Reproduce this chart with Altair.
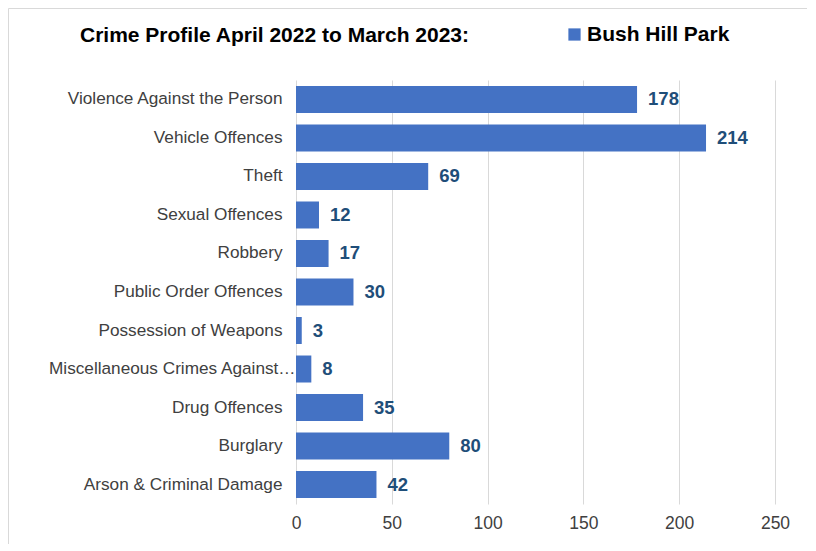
import altair as alt
import pandas as pd

categories = [
    "Violence Against the Person",
    "Vehicle Offences",
    "Theft",
    "Sexual Offences",
    "Robbery",
    "Public Order Offences",
    "Possession of Weapons",
    "Miscellaneous Crimes Against Society",
    "Drug Offences",
    "Burglary",
    "Arson & Criminal Damage",
]
counts = [178, 214, 69, 12, 17, 30, 3, 8, 35, 80, 42]
series_name = "Bush Hill Park"
chart_title = "Crime Profile April 2022 to March 2023:"
x_ticks = [0, 50, 100, 150, 200, 250]

df = pd.DataFrame({"category": categories, "count": counts, "series": [series_name] * len(categories)})

FONT = "Liberation Sans"
W, H = 479, 424
PL, PT, PR, PB = 288, 72, 32, 40

y_enc = alt.Y(
    "category:N",
    sort=categories,
    scale=alt.Scale(paddingInner=0.3, paddingOuter=0.156),
    axis=alt.Axis(
        title=None,
        ticks=False,
        domain=False,
        labelFont=FONT,
        labelFontSize=17.2,
        labelColor="#404040",
        labelPadding=alt.expr(f"datum.value == '{categories[7]}' ? 1 : 14"),
        labelLimit=252,
    ),
)

x_enc = alt.X(
    "count:Q",
    scale=alt.Scale(domain=[0, 250], nice=False),
    axis=alt.Axis(
        title=None,
        values=x_ticks,
        domain=False,
        ticks=False,
        grid=True,
        gridColor="#d9d9d9",
        labelFont=FONT,
        labelFontSize=17.5,
        labelColor="#404040",
        labelPadding=10,
        labelFlush=False,
    ),
)

bars = alt.Chart(df).mark_bar(size=27).encode(
    y=y_enc,
    x=x_enc,
    color=alt.Color(
        "series:N",
        scale=alt.Scale(domain=[series_name], range=["#4472C4"]),
        legend=alt.Legend(
            title=None,
            orient="none",
            legendX=268,
            legendY=-56,
            symbolType="square",
            symbolSize=150,
            symbolStrokeWidth=0,
            labelFont=FONT,
            labelFontSize=21,
            labelFontWeight="bold",
            labelColor="#000000",
            labelOffset=2,
        ),
    ),
)

labels = alt.Chart(df).mark_text(
    align="left", baseline="middle", dx=11, font=FONT, fontSize=18.5,
    fontWeight="bold", color="#1F4E79",
).encode(
    y=alt.Y("category:N", sort=categories),
    x=alt.X("count:Q"),
    text=alt.Text("count:Q"),
)

title = alt.Chart(alt.Data(values=[{"t": chart_title}])).mark_text(
    align="left", baseline="middle", font=FONT, fontSize=21, fontWeight="bold", color="#000000",
).encode(
    x=alt.value(80 - 8 - PL),
    y=alt.value(36 - 8 - PT),
    text="t:N",
)

one = alt.Data(values=[{"a": 1}])
border_top = alt.Chart(one).mark_rule(color="#d9d9d9", strokeWidth=1).encode(
    x=alt.value(-PL + 0.5), x2=alt.value(W + PR), y=alt.value(-PT + 0.5),
)
border_left = alt.Chart(one).mark_rule(color="#d9d9d9", strokeWidth=1).encode(
    x=alt.value(-PL + 0.5), y=alt.value(-PT + 0.5), y2=alt.value(H + PB),
)

chart = alt.layer(border_top, border_left, bars, labels, title).properties(
    width=W,
    height=H,
    autosize=alt.AutoSizeParams(type="none"),
    padding={"left": PL, "top": PT, "right": PR, "bottom": PB},
).configure_view(stroke=None)

chart.save("out.html", embed_options={"renderer": "svg", "actions": False})
